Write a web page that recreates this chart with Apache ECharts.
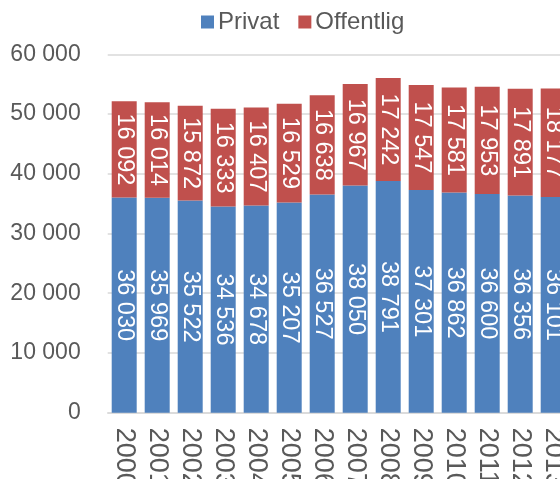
<!DOCTYPE html>
<html><head><meta charset="utf-8">
<script src="https://cdn.jsdelivr.net/npm/echarts@6/dist/echarts.min.js"></script>
<style>html,body{margin:0;padding:0;background:#fff}#c{width:560px;height:479px}</style>
</head><body><div id="c"></div>
<script>
const years = ['2000','2001','2002','2003','2004','2005','2006','2007','2008','2009','2010','2011','2012','2013'];
const privat = [36030,35969,35522,34536,34678,35207,36527,38050,38791,37301,36862,36600,36356,36101];
const offentlig = [16092,16014,15872,16333,16407,16529,16638,16967,17242,17547,17581,17953,17891,18177];
const yTicks = [0,10000,20000,30000,40000,50000,60000];

const fmt = v => String(v).replace(/\B(?=(\d{3})+(?!\d))/g, ' ');
const font = 'Liberation Sans, Arial, sans-serif';
const chart = echarts.init(document.getElementById('c'), null, {renderer:'canvas'});
const lbl = {show:true, position:'inside', rotate:-90, color:'#fff', fontSize:23.5, fontFamily:font,
  formatter: p => fmt(p.value)};
chart.setOption({
  animation:false,
  legend:{left:196, top:5, itemWidth:13, itemHeight:13, itemGap:19,
    textStyle:{fontSize:24, color:'#595959', fontFamily:font, padding:[0,0,0,-1]},
    icon:'rect', data:['Privat','Offentlig']},
  grid:{left:107.7, top:54.3, bottom:66.3, width:462, containLabel:false, outerBoundsMode:'none'},
  xAxis:{type:'category', data:years,
    axisLine:{lineStyle:{color:'#d9d9d9', width:1.5}}, axisTick:{show:false},
    axisLabel:{rotate:-90, margin:15, fontSize:27, color:'#595959', fontFamily:font, interval:0}},
  yAxis:{type:'value', min:yTicks[0], max:yTicks[yTicks.length-1], interval:10000,
    axisLine:{show:false}, axisTick:{show:false},
    splitLine:{lineStyle:{color:'#d9d9d9', width:1.5}},
    axisLabel:{fontSize:23, color:'#595959', fontFamily:font, margin:27, formatter: v => fmt(v)}},
  series:[
    {name:'Privat', type:'bar', stack:'a', data:privat, barWidth:25,
      itemStyle:{color:'#4F81BD'}, label:lbl},
    {name:'Offentlig', type:'bar', stack:'a', data:offentlig, barWidth:25,
      itemStyle:{color:'#C0504D'}, label:lbl}
  ]
});
</script></body></html>
